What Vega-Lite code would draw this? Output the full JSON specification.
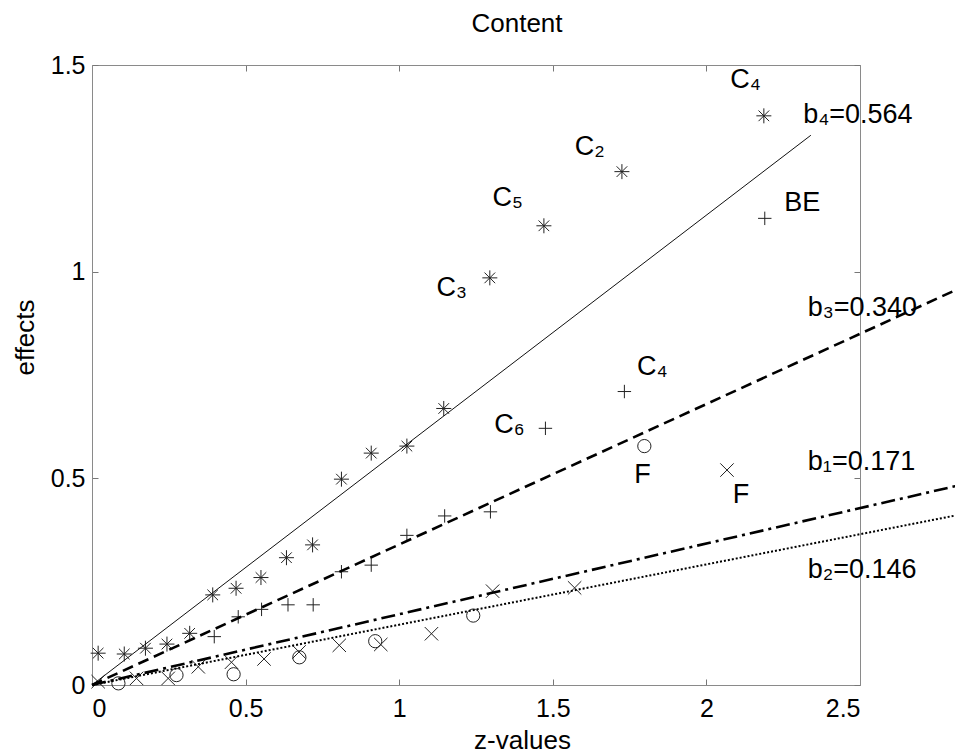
{
  "$schema": "https://vega.github.io/schema/vega-lite/v6.json",
  "width": 768,
  "height": 620,
  "autosize": {"type": "none"},
  "padding": {"left": 92, "top": 65, "right": 95, "bottom": 71},
  "background": "white",
  "title": {"text": "Content", "frame": "group", "anchor": "middle", "dx": 41, "offset": -5, "baseline": "alphabetic", "font": "Liberation Sans", "fontSize": 26, "fontWeight": "normal", "color": "black"},
  "config": {
    "view": {"stroke": null},
    "axis": {"domainColor": "#8a8a8a", "tickColor": "#777", "tickSize": -6, "grid": false, "labelFont": "Liberation Sans", "labelFontSize": 25, "labelColor": "#000", "titleFont": "Liberation Sans", "titleFontSize": 26, "titleFontWeight": "normal", "titleColor": "#000"}
  },
  "datasets": {
    "star": [
      {"z": 0.02, "v": 0.077}, {"z": 0.105, "v": 0.075}, {"z": 0.174, "v": 0.089}, {"z": 0.244, "v": 0.099},
      {"z": 0.318, "v": 0.125}, {"z": 0.393, "v": 0.218}, {"z": 0.469, "v": 0.234}, {"z": 0.55, "v": 0.26},
      {"z": 0.633, "v": 0.308}, {"z": 0.718, "v": 0.339}, {"z": 0.812, "v": 0.498}, {"z": 0.909, "v": 0.561},
      {"z": 1.025, "v": 0.578}, {"z": 1.145, "v": 0.669}, {"z": 1.295, "v": 0.985}, {"z": 1.471, "v": 1.111},
      {"z": 1.725, "v": 1.242}, {"z": 2.187, "v": 1.377}
    ],
    "plus": [
      {"z": 0.398, "v": 0.117}, {"z": 0.476, "v": 0.165}, {"z": 0.552, "v": 0.183}, {"z": 0.638, "v": 0.194},
      {"z": 0.72, "v": 0.194}, {"z": 0.812, "v": 0.274}, {"z": 0.909, "v": 0.29}, {"z": 1.025, "v": 0.362},
      {"z": 1.148, "v": 0.409}, {"z": 1.297, "v": 0.419}, {"z": 1.476, "v": 0.621}, {"z": 1.733, "v": 0.71},
      {"z": 2.19, "v": 1.129}
    ],
    "cross": [
      {"z": 0.02, "v": 0.008}, {"z": 0.145, "v": 0.016}, {"z": 0.248, "v": 0.016}, {"z": 0.346, "v": 0.044},
      {"z": 0.454, "v": 0.055}, {"z": 0.56, "v": 0.063}, {"z": 0.674, "v": 0.08}, {"z": 0.805, "v": 0.096},
      {"z": 0.94, "v": 0.098}, {"z": 1.105, "v": 0.124}, {"z": 1.304, "v": 0.227}, {"z": 1.571, "v": 0.235},
      {"z": 2.067, "v": 0.52}
    ],
    "circ": [
      {"z": 0.086, "v": 0.004}, {"z": 0.275, "v": 0.024}, {"z": 0.461, "v": 0.026}, {"z": 0.675, "v": 0.067},
      {"z": 0.922, "v": 0.106}, {"z": 1.241, "v": 0.168}, {"z": 1.798, "v": 0.578}
    ],
    "lines": [
      {"line": "b4", "z": 0, "v": 0}, {"line": "b4", "z": 2.34, "v": 1.33},
      {"line": "b3", "z": 0, "v": 0}, {"line": "b3", "z": 2.81, "v": 0.955},
      {"line": "b1", "z": 0, "v": 0}, {"line": "b1", "z": 2.81, "v": 0.481},
      {"line": "b2", "z": 0, "v": 0}, {"line": "b2", "z": 2.81, "v": 0.41}
    ],
    "plabels": [
      {"t": "C₄", "z": 2.127, "v": 1.464}, {"t": "C₂", "z": 1.62, "v": 1.302}, {"t": "C₅", "z": 1.353, "v": 1.178},
      {"t": "BE", "z": 2.312, "v": 1.166}, {"t": "C₃", "z": 1.171, "v": 0.96}, {"t": "C₄", "z": 1.824, "v": 0.769},
      {"t": "C₆", "z": 1.359, "v": 0.629}, {"t": "F", "z": 1.792, "v": 0.508}, {"t": "F", "z": 2.113, "v": 0.46}
    ],
    "blabels": [
      {"t": "b₄=0.564", "z": 2.315, "v": 1.379}, {"t": "b₃=0.340", "z": 2.33, "v": 0.912},
      {"t": "b₁=0.171", "z": 2.33, "v": 0.54}, {"t": "b₂=0.146", "z": 2.33, "v": 0.278}
    ]
  },
  "resolve": {"axis": {"x": "independent", "y": "independent"}},
  "layer": [
    {
      "data": {"name": "star"},
      "mark": {"type": "point", "shape": "M-1,0L1,0M0,-1L0,1M-0.71,-0.71L0.71,0.71M-0.71,0.71L0.71,-0.71", "size": 225, "filled": false, "stroke": "#222", "strokeWidth": 1, "opacity": 1},
      "encoding": {
        "x": {"field": "z", "type": "quantitative", "scale": {"domain": [0, 2.5], "nice": false, "zero": false},
              "axis": {"orient": "bottom", "values": [0, 0.5, 1, 1.5, 2, 2.5], "format": "~g", "labelPadding": 17, "labelBaseline": "top", "title": "z-values", "titleX": 430, "titleY": 63, "titleBaseline": "alphabetic", "titleAlign": "center", "titleAnchor": null}},
        "y": {"field": "v", "type": "quantitative", "scale": {"domain": [0, 1.5], "nice": false, "zero": false},
              "axis": {"orient": "left", "values": [0, 0.5, 1, 1.5], "format": "~g", "labelPadding": 13, "title": "effects", "titleX": -59, "titleY": 272, "titleAngle": -90, "titleBaseline": "alphabetic", "titleAlign": "center", "titleAnchor": null}}
      }
    },
    {
      "data": {"name": "plus"},
      "mark": {"type": "point", "shape": "M-1,0L1,0M0,-1L0,1", "size": 180, "filled": false, "stroke": "#222", "strokeWidth": 1, "opacity": 1},
      "encoding": {
        "x": {"field": "z", "type": "quantitative", "scale": {"domain": [0, 2.5], "nice": false, "zero": false},
              "axis": {"orient": "top", "values": [0, 0.5, 1, 1.5, 2, 2.5], "labels": false, "title": null}},
        "y": {"field": "v", "type": "quantitative", "scale": {"domain": [0, 1.5], "nice": false, "zero": false},
              "axis": {"orient": "right", "values": [0, 0.5, 1, 1.5], "labels": false, "title": null}}
      }
    },
    {
      "data": {"name": "cross"},
      "mark": {"type": "point", "shape": "M-1,-1L1,1M-1,1L1,-1", "size": 180, "filled": false, "stroke": "#222", "strokeWidth": 1, "opacity": 1},
      "encoding": {
        "x": {"field": "z", "type": "quantitative", "scale": {"domain": [0, 2.5], "nice": false, "zero": false}, "axis": null},
        "y": {"field": "v", "type": "quantitative", "scale": {"domain": [0, 1.5], "nice": false, "zero": false}, "axis": null}
      }
    },
    {
      "data": {"name": "circ"},
      "mark": {"type": "point", "shape": "circle", "size": 175, "filled": false, "stroke": "#222", "strokeWidth": 1, "opacity": 1},
      "encoding": {
        "x": {"field": "z", "type": "quantitative", "scale": {"domain": [0, 2.5], "nice": false, "zero": false}, "axis": null},
        "y": {"field": "v", "type": "quantitative", "scale": {"domain": [0, 1.5], "nice": false, "zero": false}, "axis": null}
      }
    },
    {
      "data": {"name": "lines"},
      "transform": [{"filter": "datum.line === 'b4'"}],
      "mark": {"type": "line", "clip": false, "color": "#111", "strokeWidth": 1},
      "encoding": {
        "x": {"field": "z", "type": "quantitative", "scale": {"domain": [0, 2.5], "nice": false, "zero": false}, "axis": null},
        "y": {"field": "v", "type": "quantitative", "scale": {"domain": [0, 1.5], "nice": false, "zero": false}, "axis": null}
      }
    },
    {
      "data": {"name": "lines"},
      "transform": [{"filter": "datum.line === 'b3'"}],
      "mark": {"type": "line", "clip": false, "color": "#000", "strokeWidth": 2.6, "strokeDash": [11, 6]},
      "encoding": {
        "x": {"field": "z", "type": "quantitative", "scale": {"domain": [0, 2.5], "nice": false, "zero": false}, "axis": null},
        "y": {"field": "v", "type": "quantitative", "scale": {"domain": [0, 1.5], "nice": false, "zero": false}, "axis": null}
      }
    },
    {
      "data": {"name": "lines"},
      "transform": [{"filter": "datum.line === 'b1'"}],
      "mark": {"type": "line", "clip": false, "color": "#000", "strokeWidth": 2.6, "strokeDash": [14, 5, 3, 5]},
      "encoding": {
        "x": {"field": "z", "type": "quantitative", "scale": {"domain": [0, 2.5], "nice": false, "zero": false}, "axis": null},
        "y": {"field": "v", "type": "quantitative", "scale": {"domain": [0, 1.5], "nice": false, "zero": false}, "axis": null}
      }
    },
    {
      "data": {"name": "lines"},
      "transform": [{"filter": "datum.line === 'b2'"}],
      "mark": {"type": "line", "clip": false, "color": "#000", "strokeWidth": 2, "strokeDash": [2, 2]},
      "encoding": {
        "x": {"field": "z", "type": "quantitative", "scale": {"domain": [0, 2.5], "nice": false, "zero": false}, "axis": null},
        "y": {"field": "v", "type": "quantitative", "scale": {"domain": [0, 1.5], "nice": false, "zero": false}, "axis": null}
      }
    },
    {
      "data": {"name": "plabels"},
      "mark": {"type": "text", "clip": false, "font": "Liberation Sans", "fontSize": 27, "color": "#000", "align": "center", "baseline": "middle"},
      "encoding": {
        "x": {"field": "z", "type": "quantitative", "scale": {"domain": [0, 2.5], "nice": false, "zero": false}, "axis": null},
        "y": {"field": "v", "type": "quantitative", "scale": {"domain": [0, 1.5], "nice": false, "zero": false}, "axis": null},
        "text": {"field": "t"}
      }
    },
    {
      "data": {"name": "blabels"},
      "mark": {"type": "text", "clip": false, "font": "Liberation Sans", "fontSize": 27, "color": "#000", "align": "left", "baseline": "middle"},
      "encoding": {
        "x": {"field": "z", "type": "quantitative", "scale": {"domain": [0, 2.5], "nice": false, "zero": false}, "axis": null},
        "y": {"field": "v", "type": "quantitative", "scale": {"domain": [0, 1.5], "nice": false, "zero": false}, "axis": null},
        "text": {"field": "t"}
      }
    }
  ]
}
